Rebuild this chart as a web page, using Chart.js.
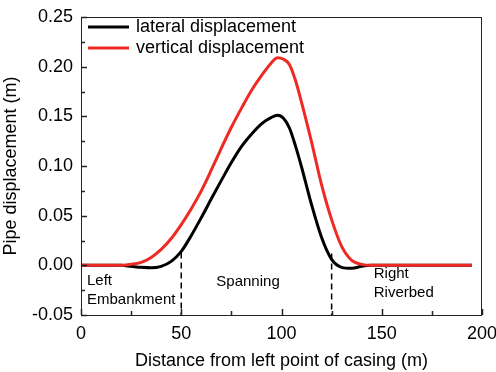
<!DOCTYPE html>
<html>
<head>
<meta charset="utf-8">
<script src="https://cdn.jsdelivr.net/npm/chart.js@4"></script>
<style>
html,body{margin:0;padding:0;background:#fff;}
#wrap{width:496px;height:372px;position:relative;}
</style>
</head>
<body>
<div id="wrap"><canvas id="c" width="496" height="372"></canvas></div>
<script>
// ---- data ----
const distance = [0,5,10,15,20,25,30,35,40,45,50,55,60,65,70,75,80,85,90,95,98,101,104,107,110,115,120,125,130,135,140,145,150,160,170,180,190,195];
const lateral  = [0,0,0,0,0,-0.001,-0.002,-0.0025,-0.001,0.004,0.014,0.030,0.048,0.067,0.0855,0.1035,0.1195,0.132,0.1425,0.149,0.151,0.148,0.138,0.120,0.099,0.061,0.028,0.006,-0.002,-0.003,-0.001,0,0,0,0,0,0,0];
const vertical = [0,0,0,0,0,0.001,0.003,0.008,0.016,0.027,0.041,0.057,0.075,0.096,0.118,0.139,0.158,0.176,0.191,0.204,0.209,0.2075,0.202,0.186,0.164,0.124,0.081,0.046,0.019,0.005,0.001,0,0,0,0,0,0,0];
const seriesNames = ['lateral displacement','vertical displacement'];
const boundaryX = [50,125];
const boundaryTop = [0.013,0.012];
const regionLabels = [['Left','Embankment'],['Spanning'],['Right','Riverbed']];
const regionX = [3,67.5,146];
const regionY = [-0.016,-0.017,-0.009];
const xTicks = [0,50,100,150,200];
const yTicks = [-0.05,0,0.05,0.10,0.15,0.20,0.25];

const FONT = "'Liberation Sans', Arial, sans-serif";
const lineColors = ['#000000','#ee2a24'];

function pts(ys){ return distance.map((x,i)=>({x:x,y:ys[i]})); }

const datasets = [
  {label:seriesNames[0], data:pts(lateral), borderColor:lineColors[0], borderWidth:3, pointRadius:0, cubicInterpolationMode:'monotone', order:2},
  {label:seriesNames[1], data:pts(vertical), borderColor:lineColors[1], borderWidth:3, pointRadius:0, cubicInterpolationMode:'monotone', order:1}
];
boundaryX.forEach((bx,i)=>{
  datasets.push({label:'b'+i, data:[{x:bx,y:boundaryTop[i]},{x:bx,y:-0.05}], borderColor:'#000', borderWidth:1.5, borderDash:[6,4], pointRadius:0, order:3});
});

const decor = {
  id:'decor',
  afterDraw(chart){
    const {ctx, chartArea:a, scales:{x, y}} = chart;
    ctx.save();
    // frame
    ctx.strokeStyle = '#222'; ctx.lineWidth = 1;
    ctx.strokeRect(a.left+0.5, a.top+0.5, a.right-a.left-1, a.bottom-a.top);
    // ticks inward
    ctx.lineWidth = 1.5; ctx.strokeStyle = '#222';
    for (let v=0; v<=200; v+=25){
      const px = Math.round(x.getPixelForValue(v))+0.5;
      const len = (v%50===0)?6:4;
      ctx.beginPath(); ctx.moveTo(px, a.bottom); ctx.lineTo(px, a.bottom-len); ctx.stroke();
    }
    for (let k=0; k<=12; k++){
      const v = -0.05 + k*0.025;
      const py = Math.round(y.getPixelForValue(v))+0.5;
      const len = (k%2===0)?6:4;
      ctx.beginPath(); ctx.moveTo(a.left, py); ctx.lineTo(a.left+len, py); ctx.stroke();
    }
    // legend
    ctx.font = "18px " + FONT;
    ctx.textBaseline = 'middle'; ctx.textAlign = 'left'; ctx.fillStyle = '#000';
    const ly = [27, 48];
    seriesNames.forEach((n,i)=>{
      ctx.strokeStyle = lineColors[i]; ctx.lineWidth = 3;
      ctx.beginPath(); ctx.moveTo(a.left+7, ly[i]); ctx.lineTo(a.left+48, ly[i]); ctx.stroke();
      ctx.fillText(n, a.left+55, ly[i]);
    });
    // region labels
    ctx.font = "15px " + FONT;
    regionLabels.forEach((lines,i)=>{
      const px = x.getPixelForValue(regionX[i]);
      const py = y.getPixelForValue(regionY[i]);
      lines.forEach((t,j)=>{ ctx.fillText(t, px, py + j*19); });
    });
    ctx.restore();
  }
};

new Chart(document.getElementById('c'), {
  type:'line',
  data:{datasets:datasets},
  options:{
    responsive:false, animation:false,
    layout:{padding:{top:17,right:14,left:0,bottom:0}},
    plugins:{legend:{display:false}, tooltip:{enabled:false}},
    scales:{
      x:{type:'linear', min:0, max:200,
        afterBuildTicks(s){ s.ticks = xTicks.map(v=>({value:v})); },
        afterFit(s){ s.height = 57; s.paddingLeft = 0; s.paddingRight = 0; },
        grid:{display:false, drawTicks:false},
        border:{display:false},
        ticks:{padding:8, color:'#000', font:{family:FONT, size:18}, callback:v=>String(v), maxRotation:0},
        title:{display:true, text:'Distance from left point of casing (m)', color:'#000', font:{family:FONT, size:18}, padding:{top:6,bottom:0}}
      },
      y:{type:'linear', min:-0.05, max:0.25,
        afterBuildTicks(s){ s.ticks = yTicks.map(v=>({value:v})); },
        afterFit(s){ s.width = 81; s.paddingTop = 0; s.paddingBottom = 0; },
        grid:{display:false, drawTicks:false},
        border:{display:false},
        ticks:{padding:8, color:'#000', font:{family:FONT, size:18}, callback:v=>Number(v).toFixed(2)},
        title:{display:true, text:'Pipe displacement (m)', color:'#000', font:{family:FONT, size:18}, padding:{top:0,bottom:0}}
      }
    }
  },
  plugins:[decor]
});
</script>
</body>
</html>
